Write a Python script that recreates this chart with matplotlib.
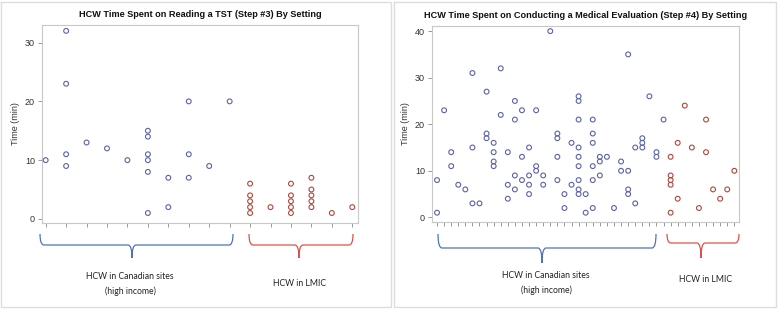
import matplotlib
matplotlib.use("Agg")
import matplotlib.pyplot as plt
from matplotlib.path import Path
from matplotlib.patches import PathPatch

# ---- data: minutes per HCW, grouped by site (one inner list per site) ----
tst_canada = [[10], [32, 23, 11, 9], [13], [12], [10], [15, 14, 11, 10, 8, 1],
              [7, 2], [20, 11, 7], [9], [20]]
tst_lmic = [[6, 4, 3, 2, 1], [2], [6, 4, 3, 2, 1], [7, 5, 4, 3, 2], [1], [2]]

eval_canada = [[8, 1], [23], [14, 11], [7], [6], [31, 15, 3], [3], [27, 18, 17],
               [16, 14, 12, 11], [32, 22], [14, 7, 4], [25, 21, 9, 6], [23, 13, 8],
               [15, 9, 7, 5], [23, 11, 10], [9, 7], [40], [18, 17, 13, 8], [5, 2],
               [16, 7], [26, 25, 21, 15, 13, 11, 8, 6, 5], [5, 1],
               [21, 18, 16, 11, 8, 2], [13, 12, 9], [13], [2], [12, 10],
               [35, 10, 6, 5], [15, 3], [17, 16, 15], [26], [14, 13], [21]]
eval_lmic = [[13, 9, 8, 7, 1], [16, 4], [24], [15], [2], [21, 14], [6], [4], [6], [10]]

titles = ["HCW Time Spent on Reading a TST (Step #3) By Setting",
          "HCW Time Spent on Conducting a Medical Evaluation (Step #4) By Setting"]
group_labels = ["HCW in Canadian sites\n(high income)", "HCW in LMIC"]

BLUE = "#5b63a8"
RED = "#b0473c"
BR_BLUE = "#4f73b5"
BR_RED = "#d9534f"
FRAME = "#c8c8c8"
TXT = "#333333"

W, H = 778, 309
fig = plt.figure(figsize=(W / 100, H / 100), dpi=100)
plt.rcParams["font.family"] = ["Liberation Sans", "DejaVu Sans"]


def px_box(x0, y0, x1, y1):
    return [x0 / W, 1 - y1 / H, (x1 - x0) / W, (y1 - y0) / H]


def draw_panel(ax, canada, lmic, title, ylim, yticks, xlim):
    groups = canada + lmic
    for i, vals in enumerate(groups):
        col = BLUE if i < len(canada) else RED
        ax.scatter([i + 1] * len(vals), vals, s=12, facecolors="none",
                   edgecolors=col, linewidths=0.8, zorder=3)
    ax.set_xlim(*xlim)
    ax.set_ylim(*ylim)
    ax.set_yticks(yticks)
    ax.set_xticks(range(1, len(groups) + 1))
    ax.set_xticklabels([])
    ax.tick_params(axis="both", length=3, width=0.6, color="#888888",
                   labelsize=6.5, labelcolor=TXT, pad=2)
    for s in ax.spines.values():
        s.set_color(FRAME)
        s.set_linewidth(0.8)
    ax.set_ylabel("Time (min)", fontsize=6.5, color=TXT, labelpad=4)
    ax.set_title(title, fontsize=6.6, fontweight="bold", color="#111111", pad=6)


ax1 = fig.add_axes(px_box(42, 25, 358, 223))
draw_panel(ax1, tst_canada, tst_lmic, titles[0], (-0.7, 33), [0, 10, 20, 30],
           (0.82, 16.28))
ax2 = fig.add_axes(px_box(432, 26, 739, 222))
draw_panel(ax2, eval_canada, eval_lmic, titles[1], (-1.0, 41.1),
           [0, 10, 20, 30, 40], (0.29, 43.66))

# overlay in pixel coords for brackets, labels and panel frames
ov = fig.add_axes([0, 0, 1, 1], zorder=-1)
ov.set_xlim(0, W)
ov.set_ylim(H, 0)
ov.axis("off")


def bracket(x0, x1, xc, ytop, yh, yb, color):
    r = 4
    verts = [(x0, ytop), (x0, yh), (x0 + r, yh),
             (xc - r, yh), (xc, yh), (xc, yb),
             (xc, yh), (xc + r, yh),
             (x1 - r, yh), (x1, yh), (x1, ytop)]
    codes = [Path.MOVETO, Path.CURVE3, Path.CURVE3,
             Path.LINETO, Path.CURVE3, Path.CURVE3,
             Path.CURVE3, Path.CURVE3,
             Path.LINETO, Path.CURVE3, Path.CURVE3]
    ov.add_patch(PathPatch(Path(verts, codes), fill=False, edgecolor=color, lw=0.9))


bracket(40, 233, 132, 234, 245, 258, BR_BLUE)
bracket(249, 353, 299, 234, 245, 258, BR_RED)
bracket(438, 656, 542, 234, 248, 263, BR_BLUE)
bracket(667, 739, 701, 234, 243, 258, BR_RED)

lab_kw = dict(ha="center", va="center", fontsize=6.2, color="#222222",
              family=["Lato", "DejaVu Sans"], linespacing=1.6)
ov.text(130, 284, group_labels[0], **lab_kw)
ov.text(300, 284, group_labels[1], **lab_kw)
ov.text(546, 283, group_labels[0], **lab_kw)
ov.text(706, 279, group_labels[1], **lab_kw)

# panel frames
for x0, x1 in [(1.5, 391), (394, 776.5)]:
    ov.plot([x0, x1, x1, x0, x0], [1.5, 1.5, 307, 307, 1.5], color="#dddddd", lw=1)

fig.savefig("out.png", dpi=100)
